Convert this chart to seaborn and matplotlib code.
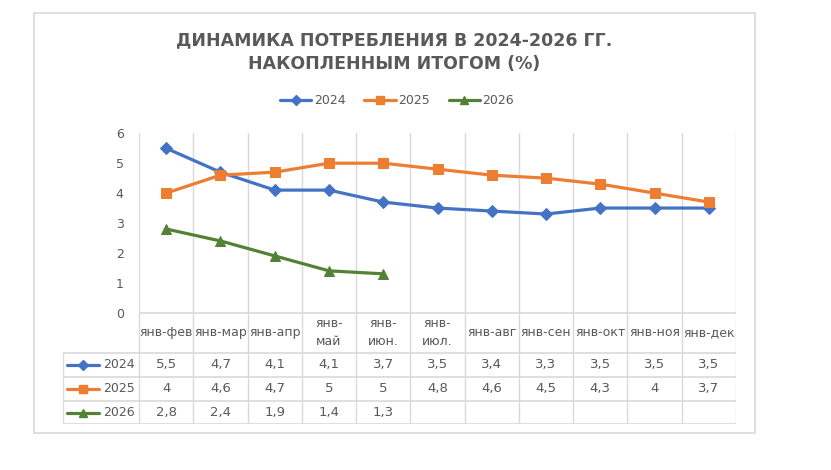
import numpy as np
import pandas as pd
import matplotlib.pyplot as plt
import seaborn as sns
from matplotlib.lines import Line2D
from matplotlib.patches import Rectangle

# --- data ---
categories = ["янв-фев", "янв-мар", "янв-апр", "янв-май", "янв-июн.", "янв-июл.",
              "янв-авг", "янв-сен", "янв-окт", "янв-ноя", "янв-дек"]
tick_labels = ["янв-фев", "янв-мар", "янв-апр", "янв-\nмай", "янв-\nиюн.", "янв-\nиюл.",
               "янв-авг", "янв-сен", "янв-окт", "янв-ноя", "янв-дек"]
years = ["2024", "2025", "2026"]
v2024 = [5.5, 4.7, 4.1, 4.1, 3.7, 3.5, 3.4, 3.3, 3.5, 3.5, 3.5]
v2025 = [4, 4.6, 4.7, 5, 5, 4.8, 4.6, 4.5, 4.3, 4, 3.7]
v2026 = [2.8, 2.4, 1.9, 1.4, 1.3, np.nan, np.nan, np.nan, np.nan, np.nan, np.nan]
y_ticks = [0, 1, 2, 3, 4, 5, 6]

series = [v2024, v2025, v2026]
colors = ["#4472C4", "#ED7D31", "#548235"]
markers = ["D", "s", "^"]
msizes = [6, 7, 7.5]

TXT = "#595959"
GRID = "#D9D9D9"

sns.set_style("white")
plt.rcParams['font.family'] = ['DejaVu Sans']

W, H = 831, 470
fig = plt.figure(figsize=(W / 100, H / 100), dpi=100)


def px_box(x0, y0, x1, y1):
    # pixel box (top-left origin) -> figure fraction rect
    return [x0 / W, 1 - y1 / H, (x1 - x0) / W, (y1 - y0) / H]


# outer chart frame
fig.patches.append(Rectangle((34 / W, 1 - 433 / H), (755 - 34) / W, (433 - 13) / H,
                             transform=fig.transFigure, fill=False, ec=GRID, lw=1.2))

# plot area
PL, PR, PT, PB = 139, 736, 133.3, 312.7
ax = fig.add_axes(px_box(PL, PT, PR, PB))
n = len(categories)
df = pd.DataFrame({"idx": np.arange(n), "2024": v2024, "2025": v2025, "2026": v2026})

for k in range(n + 1):
    ax.axvline(k - 0.5, color=GRID, lw=1, zorder=0)

for yr, col, mk, ms in zip(years, colors, markers, msizes):
    sns.lineplot(data=df, x="idx", y=yr, ax=ax, color=col, lw=2.3, marker=mk,
                 markersize=ms, markeredgecolor=col, label=yr, legend=False)

ax.set_xlim(-0.5, n - 0.5)
ax.set_ylim(0, 6)
ax.set_yticks(y_ticks)
ax.set_xticks([])
ax.set_xlabel("")
ax.set_ylabel("")
ax.tick_params(axis="y", length=0, pad=11, labelsize=9, labelcolor=TXT)
for s in ax.spines.values():
    s.set_visible(False)

# legend
handles = [Line2D([], [], color=c, lw=2.3, marker=m, markersize=ms * 0.85, mec=c)
           for c, m, ms in zip(colors, markers, msizes)]
fig.legend(handles, years, loc="center", bbox_to_anchor=(397 / W, 1 - 101 / H), ncol=3,
           frameon=False, fontsize=9, handlelength=2.5, handletextpad=0.2,
           columnspacing=1.5, labelcolor=TXT)

# title
fig.text(394 / W, 1 - 52 / H, "ДИНАМИКА ПОТРЕБЛЕНИЯ В 2024-2026 ГГ.\nНАКОПЛЕННЫМ ИТОГОМ (%)",
         ha="center", va="center", fontsize=12.5, fontweight="bold", color=TXT,
         linespacing=1.45)

# data table under the plot
TL, TB = 62.7, 424.3
rows_px = [312.7, 352.7, 376.7, 401.0, 424.3]
col_w = (PR - PL) / n
x_left = -0.5 - (PL - TL) / col_w
tax = fig.add_axes(px_box(TL, PT, PR, TB))
tax.set_xlim(x_left, n - 0.5)
tax.set_ylim(TB, PT)
tax.axis("off")
tax.patch.set_alpha(0)

tax.hlines(rows_px[0], -0.5, n - 0.5, color=GRID, lw=1.2)
for yy in rows_px[1:]:
    tax.hlines(yy, x_left, n - 0.5, color=GRID, lw=1.2)
for k in range(n + 1):
    tax.vlines(k - 0.5, rows_px[0], rows_px[-1], color=GRID, lw=1)
tax.vlines(x_left, rows_px[1], rows_px[-1], color=GRID, lw=1)

for i, lab in enumerate(tick_labels):
    tax.text(i, (rows_px[0] + rows_px[1]) / 2, lab, ha="center", va="center",
             fontsize=9, color=TXT, linespacing=1.5)

key_x0 = x_left + (67 - TL) / col_w
key_x1 = x_left + (99 - TL) / col_w
lab_x = x_left + (135 - TL) / col_w
for r, (yr, vals, col, mk, ms) in enumerate(zip(years, series, colors, markers, msizes)):
    yc = (rows_px[r + 1] + rows_px[r + 2]) / 2
    tax.plot([key_x0, key_x1], [yc, yc], color=col, lw=2.3)
    tax.plot([(key_x0 + key_x1) / 2], [yc], color=col, marker=mk, markersize=ms * 0.85, mec=col)
    tax.text(lab_x, yc, yr, ha="right", va="center", fontsize=9, color=TXT)
    for i, v in enumerate(vals):
        if not np.isnan(v):
            tax.text(i, yc, f"{v:g}".replace(".", ","), ha="center", va="center",
                     fontsize=9.5, color=TXT)

fig.savefig("out.png", dpi=100)
